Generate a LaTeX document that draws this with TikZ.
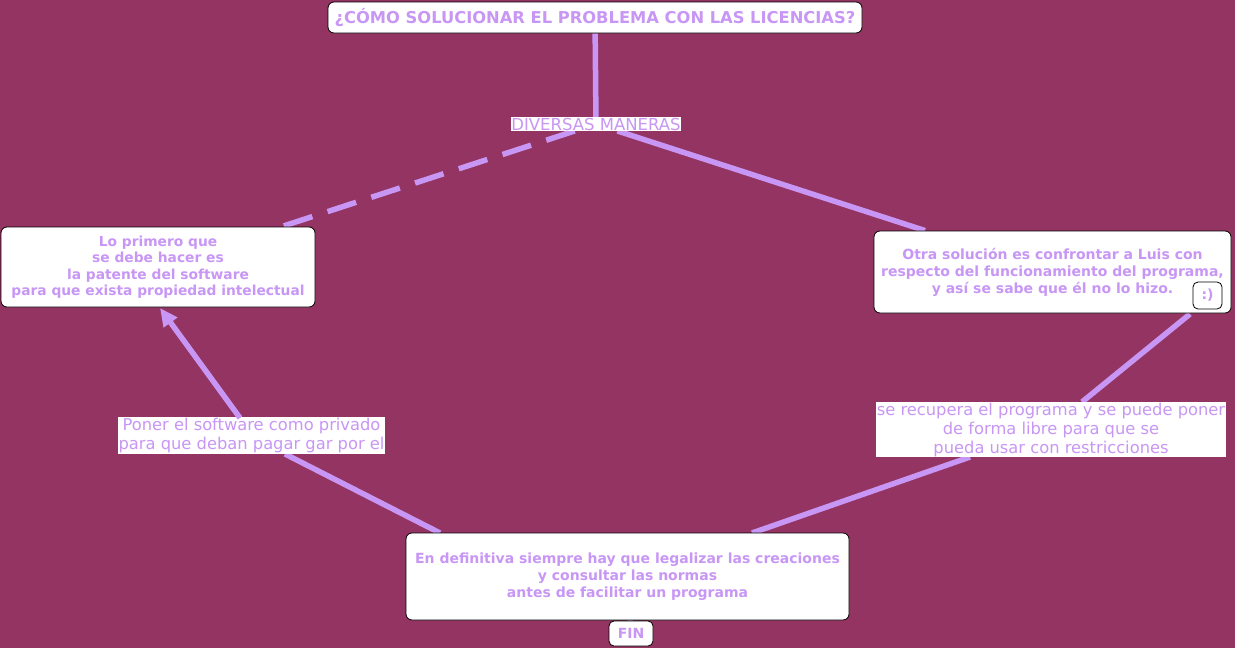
\documentclass[tikz,border=0pt]{standalone}
\usepackage{fontspec}
\setmainfont{DejaVu Sans}
\usetikzlibrary{arrows.meta,calc}
\definecolor{bg}{RGB}{148,52,98}
\definecolor{lav}{RGB}{200,150,245}
\pgfdeclarelayer{back}
\pgfdeclarelayer{lines}
\pgfsetlayers{back,lines,main}
\begin{document}
\begin{tikzpicture}[x=1pt,y=-1pt,
  box/.style={draw=black,line width=0.8pt,fill=white,rounded corners=6pt,text=lav,align=center,font=\bfseries\fontsize{14}{17}\selectfont,inner sep=0pt},
  lbl/.style={fill=white,text=lav,align=center,font=\fontsize{16.3}{19}\selectfont,inner sep=1pt},
  conn/.style={draw=lav,line width=5.5pt}]
\begin{pgfonlayer}{back}
\fill[bg] (0,0) rectangle (1235,648);
\end{pgfonlayer}
\useasboundingbox (0,0) rectangle (1235,648);
% nodes
\node[box,minimum width=534,minimum height=31,font=\bfseries\fontsize{16.3}{19}\selectfont] (title) at (595,17.5) {¿CÓMO SOLUCIONAR EL PROBLEMA CON LAS LICENCIAS?};
\node[lbl,inner sep=0.5pt,font=\fontsize{16.5}{19}\selectfont] (div) at (596,124) {DIVERSAS MANERAS};
\node[box,minimum width=314,minimum height=80,font=\bfseries\fontsize{13.8}{16.5}\selectfont] (left) at (158,267) {Lo primero que\\se debe hacer es\\la patente del software\\para que exista propiedad intelectual};
\node[box,minimum width=357,minimum height=82] (right) at (1052.5,272) {Otra solución es confrontar a Luis con\\respecto del funcionamiento del programa,\\y así se sabe que él no lo hizo.};
\node[box,minimum width=29,minimum height=27,rounded corners=5pt] (smile) at (1207.5,295.5) {:)};
\node[lbl,minimum width=265,minimum height=37] (poner) at (251.5,435.5) {Poner el software como privado\\para que deban pagar gar por el};
\node[lbl,minimum width=350,minimum height=55] (recup) at (1051,429.5) {se recupera el programa y se puede poner\\de forma libre para que se\\pueda usar con restricciones};
\node[box,minimum width=443,minimum height=87] (bottom) at (627.5,576.5) {En definitiva siempre hay que legalizar las creaciones\\y consultar las normas\\antes de facilitar un programa};
\node[box,minimum width=44,minimum height=25,rounded corners=5pt] (fin) at (631,633.5) {FIN};
% connector end points
\coordinate (ponerTop) at (240,418);
\coordinate (leftTip) at (160,308);
\coordinate (bottomL) at (440,533);
\coordinate (ponerBot) at (285,454);
\coordinate (smileOut) at (1190,314);
\coordinate (recupTop) at (1082,402);
\coordinate (bottomR) at (752,533);
\coordinate (recupBot) at (970,457);
% connectors
\begin{pgfonlayer}{lines}
\draw[conn] (title) -- (div);
\draw[conn,dash pattern=on 30pt off 16pt] (div) -- (left);
\draw[conn] (div) -- (right);
\draw[conn] (smileOut) -- (recupTop);
\draw[conn] (bottomR) -- (recupBot);
\draw[conn] (bottomL) -- (ponerBot);
\draw[conn] (bottom.center) -- (fin.center);
\end{pgfonlayer}
\draw[conn,-{Triangle[length=18pt,width=16pt]}] (ponerTop) -- (leftTip);
\end{tikzpicture}
\end{document}
